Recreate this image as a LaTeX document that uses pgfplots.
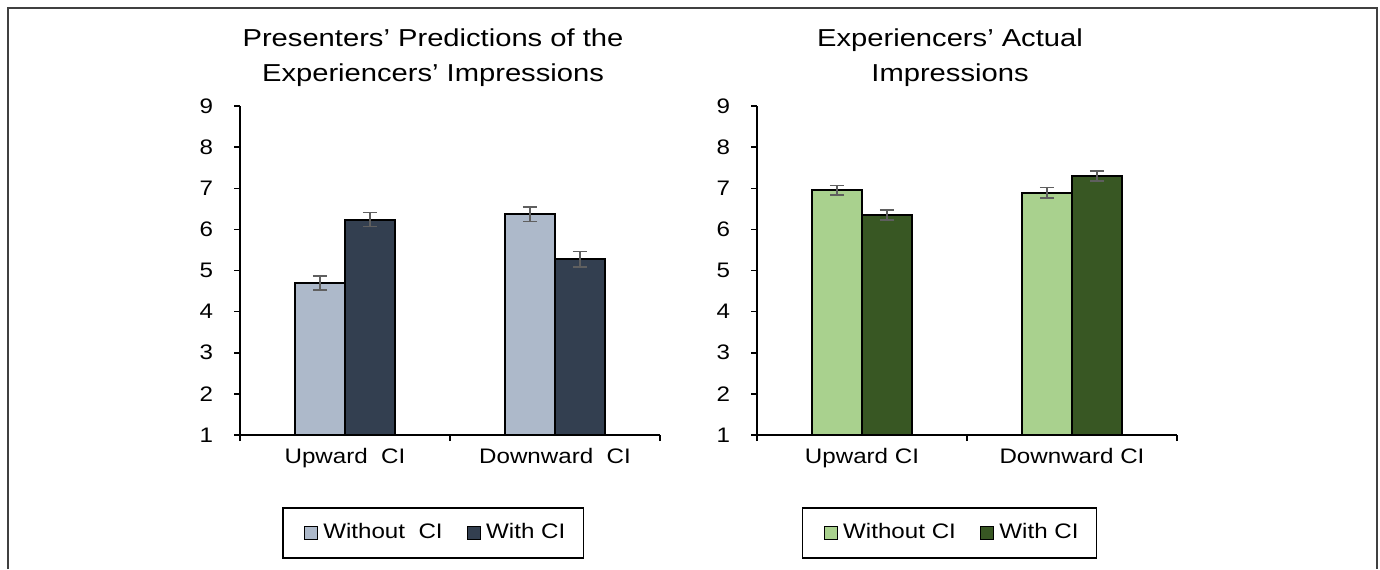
\documentclass[border=0pt]{standalone}
\usepackage{fontspec}
\setmainfont{Liberation Sans}
\usepackage{graphicx}
\usepackage{pgfplots}
\pgfplotsset{compat=1.18}
\definecolor{lgb}{HTML}{ADB9CA}
\definecolor{dnv}{HTML}{333F50}
\definecolor{lgr}{HTML}{A9D18E}
\definecolor{dgr}{HTML}{385723}
\definecolor{errg}{HTML}{5F5F5F}
\newcommand\hsc[1]{\scalebox{1.15}[1]{#1}}
\newcommand\tsc[1]{\scalebox{1.19}[1]{#1}}
\pgfplotsset{
  mybar/.style={
    scale only axis, width=210pt, height=164.5pt,
    xmin=0, xmax=2, ymin=1, ymax=9,
    ybar=0pt, bar width=25pt,
    axis lines*=left, axis line style={line width=0.75pt,-},
    tick align=outside,
    tick style={line width=0.75pt, black},
    ytick={1,...,9},
    yticklabel={\hsc{\pgfmathprintnumber[assume math mode=true]{\tick}}},
    yticklabel style={xshift=-7pt},
    xtick={0.5,1.5},
    major x tick style={draw=none},
    minor xtick={0,1,2},
    minor tick length=3pt, major tick length=3pt,
    tick label style={font=\fontsize{10.5}{12}\selectfont},
    legend columns=2,
    legend style={at={(rel axis cs:0.1,0)}, anchor=north west, yshift=-36pt,
      draw=black, line width=0.75pt, font=\fontsize{10.5}{12}\selectfont,
      inner xsep=7pt, inner ysep=6pt,
      /tikz/every odd column/.append style={column sep=0.5pt},
      /tikz/every even column/.append style={column sep=6.5pt}},
    legend image code/.code={\path[draw=none, fill=none] (0pt,0pt) -- (4pt,0pt);
      \draw[#1, line width=0.5pt] (4pt,-3.25pt) rectangle (10.5pt,3.25pt);},
  },
  bars/.style={draw=black, line width=1pt,
    error bars/y dir=both, error bars/y explicit,
    error bars/error bar style={errg, line width=0.8pt},
    error bars/error mark options={rotate=90, errg, mark size=3.6pt, line width=0.8pt}},
}
\begin{document}
\begin{tikzpicture}
\useasboundingbox (0,0) rectangle (690pt,-284.5pt);
\draw[black!75, line width=1pt] (4pt,-284.5pt) -- (4pt,-4pt) -- (688.5pt,-4pt) -- (688.5pt,-284.5pt);
\node[anchor=base, font=\fontsize{12.25}{14}\selectfont] at (216.5pt,-23.35pt) {\tsc{Presenters' Predictions of the}};
\node[anchor=base, font=\fontsize{12.25}{14}\selectfont] at (216.5pt,-40.85pt) {\tsc{Experiencers' Impressions}};
\node[anchor=base, font=\fontsize{12.25}{14}\selectfont] at (475pt,-23.35pt) {\tsc{Experiencers' Actual}};
\node[anchor=base, font=\fontsize{12.25}{14}\selectfont] at (475pt,-40.85pt) {\tsc{Impressions}};
\begin{axis}[mybar, at={(120pt,-217.5pt)}, anchor=south west,
  xticklabels={\hsc{Upward\ \ CI}, \hsc{Downward\ \ CI}}]
\addplot[bars, fill=lgb] coordinates {(0.5,4.70) +- (0,0.17) (1.5,6.37) +- (0,0.18)};
\addlegendentry{\hsc{Without\ \ CI}}
\addplot[bars, fill=dnv] coordinates {(0.5,6.24) +- (0,0.17) (1.5,5.27) +- (0,0.19)};
\addlegendentry{\hsc{With CI}}
\end{axis}
\begin{axis}[mybar, at={(378.5pt,-217.5pt)}, anchor=south west,
  xticklabels={\hsc{Upward CI}, \hsc{Downward CI}},
  legend style={at={(rel axis cs:0.107,0)}}]
\addplot[bars, fill=lgr] coordinates {(0.5,6.95) +- (0,0.12) (1.5,6.89) +- (0,0.125)};
\addlegendentry{\hsc{Without CI}}
\addplot[bars, fill=dgr] coordinates {(0.5,6.35) +- (0,0.12) (1.5,7.30) +- (0,0.125)};
\addlegendentry{\hsc{With CI}}
\end{axis}
\end{tikzpicture}
\end{document}
